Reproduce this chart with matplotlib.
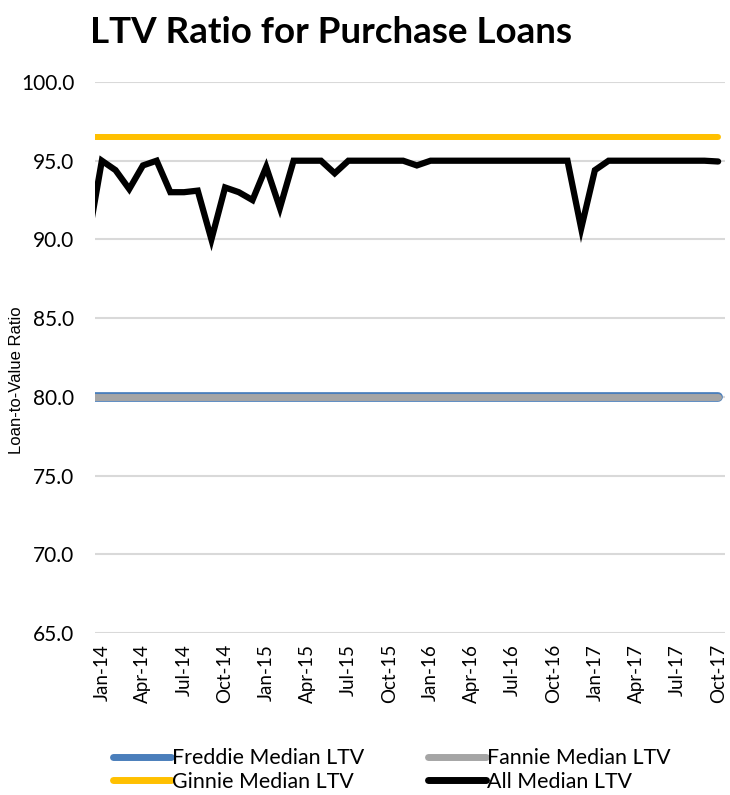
import matplotlib
matplotlib.use("Agg")
import matplotlib.pyplot as plt
import numpy as np

# Months Dec-13 .. Oct-17 (Dec-13 sits just outside the visible axis)
months = ["Dec-13",
          "Jan-14", "Feb-14", "Mar-14", "Apr-14", "May-14", "Jun-14", "Jul-14", "Aug-14", "Sep-14", "Oct-14", "Nov-14", "Dec-14",
          "Jan-15", "Feb-15", "Mar-15", "Apr-15", "May-15", "Jun-15", "Jul-15", "Aug-15", "Sep-15", "Oct-15", "Nov-15", "Dec-15",
          "Jan-16", "Feb-16", "Mar-16", "Apr-16", "May-16", "Jun-16", "Jul-16", "Aug-16", "Sep-16", "Oct-16", "Nov-16", "Dec-16",
          "Jan-17", "Feb-17", "Mar-17", "Apr-17", "May-17", "Jun-17", "Jul-17", "Aug-17", "Sep-17", "Oct-17"]

all_ltv = [90.0,
           95.0, 94.4, 93.2, 94.7, 95.0, 93.0, 93.0, 93.1, 90.0, 93.3, 93.0, 92.5,
           94.6, 92.0, 95.0, 95.0, 95.0, 94.2, 95.0, 95.0, 95.0, 95.0, 95.0, 94.7,
           95.0, 95.0, 95.0, 95.0, 95.0, 95.0, 95.0, 95.0, 95.0, 95.0, 95.0, 90.7,
           94.4, 95.0, 95.0, 95.0, 95.0, 95.0, 95.0, 95.0, 95.0, 94.95]
freddie_ltv = [80.0] * len(months)
fannie_ltv = [80.0] * len(months)
ginnie_ltv = [96.5] * len(months)

tick_labels = ["Jan-14", "Apr-14", "Jul-14", "Oct-14", "Jan-15", "Apr-15", "Jul-15", "Oct-15",
               "Jan-16", "Apr-16", "Jul-16", "Oct-16", "Jan-17", "Apr-17", "Jul-17", "Oct-17"]

fig = plt.figure(figsize=(7.30, 7.95), dpi=100)
ax = fig.add_axes([95/730, 1-633/795, 630/730, (633-82)/795])

x = np.arange(len(months))
l_fr, = ax.plot(x, freddie_ltv, color="#4A7EBB", lw=7.0, solid_capstyle="round", label="Freddie Median LTV", zorder=3)
l_fa, = ax.plot(x, fannie_ltv, color="#A5A5A5", lw=5.0, solid_capstyle="round", label="Fannie Median LTV", zorder=4)
l_gi, = ax.plot(x, ginnie_ltv, color="#FFC000", lw=4.3, solid_capstyle="round", label="Ginnie Median LTV", zorder=5)
l_al, = ax.plot(x, all_ltv, color="#000000", lw=4.5, solid_capstyle="round", solid_joinstyle="miter",
                label="All Median LTV", zorder=6)

ax.set_xlim(0.5, len(months) - 0.5)
ax.set_ylim(65, 100)
ax.set_yticks(np.arange(65, 100.1, 5))
ax.set_yticklabels([f"{v:.1f}" for v in np.arange(65, 100.1, 5)], fontfamily="Lato", fontsize=15)
ax.grid(axis="y", color="#D9D9D9", lw=1.5, zorder=0)
ax.set_axisbelow(True)

tick_pos = [months.index(t) for t in tick_labels]
ax.set_xticks(tick_pos)
ax.set_xticklabels(tick_labels, rotation=90, fontfamily="Lato", fontsize=13.5)
ax.tick_params(axis="both", length=0)
ax.tick_params(axis="y", pad=15)
ax.tick_params(axis="x", pad=8)
for s in ax.spines.values():
    s.set_visible(False)

fig.text(17/730, 1-380/795, "Loan-to-Value Ratio", rotation=90, ha="center", va="center",
         fontfamily="Liberation Sans", fontsize=12)
fig.text(90/730, 1-43/795, "LTV Ratio for Purchase Loans", ha="left", va="baseline",
         fontfamily="Lato", fontweight="bold", fontsize=26.5)

handles = [l_fr, l_gi, l_fa, l_al]
leg = fig.legend(handles=handles, labels=[h.get_label() for h in handles],
                 loc="center", bbox_to_anchor=(392/730, 1-770/795), ncol=2, frameon=False,
                 prop={"family": "Lato", "size": 15.4}, handlelength=2.7, handletextpad=0.05,
                 columnspacing=3.0, labelspacing=0.15)
for h in leg.get_lines():
    h.set_linewidth(5)
    h.set_solid_capstyle("round")

fig.savefig("out.png", dpi=100)
